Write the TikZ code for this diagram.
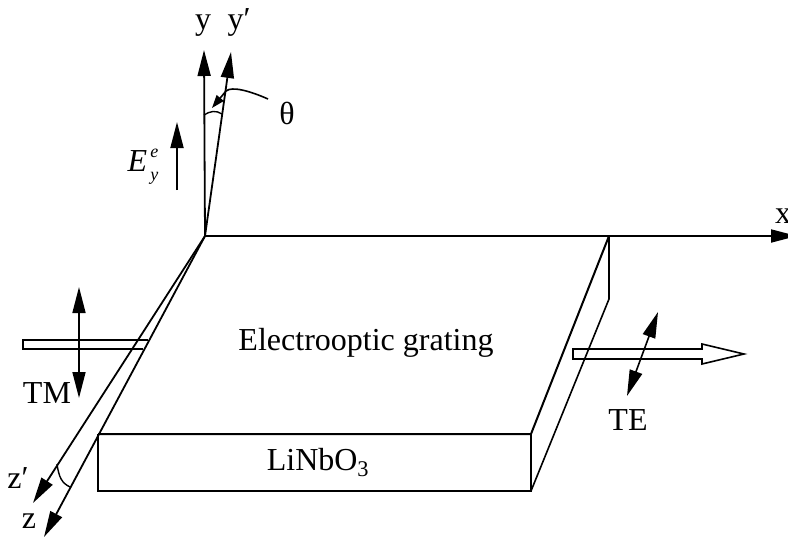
\documentclass[tikz,border=0pt]{standalone}
\usepackage{fontspec}
\setmainfont{Liberation Serif}
\usetikzlibrary{arrows.meta}
\begin{document}
\begin{tikzpicture}[x=1pt,y=-1pt,
  line join=miter,
  solid/.style = {line width=2pt},
  axis/.style = {line width=1.8pt,-{Triangle[length=26pt,width=13pt]}},
  both/.style = {line width=1.6pt,{Triangle[length=26pt,width=13pt]}-{Triangle[length=26pt,width=13pt]}},
  label/.style = {inner sep=0pt,anchor=base,font=\fontsize{32}{34}\selectfont}
]
 \useasboundingbox (0,0) rectangle (788,541);
 \coordinate (o) at (205,236);
 \coordinate (xend) at (797,236);
 \coordinate (yend) at (204,50);
 \coordinate (ypend) at (231,52);
 \coordinate (zend) at (44,537);
 \coordinate (zpend) at (33,503);
 \coordinate (back) at (609,236);
 \coordinate (backlow) at (609,299);
 \coordinate (fl) at (98,434);
 \coordinate (flow) at (98,491);
 \coordinate (fr) at (531,434);
 \coordinate (frlow) at (531,491);
 \coordinate (Ea) at (177,190);
 \coordinate (Eb) at (177,122);
 \coordinate (TMa) at (79,287);
 \coordinate (TMb) at (79,398);
 \coordinate (TEa) at (658,312);
 \coordinate (TEb) at (627,396);
 \coordinate (tha) at (268,99);
 \coordinate (thb) at (212,108);
 % axes
 \draw[axis] (o) -- (xend);
 \draw[axis] (o) -- (yend);
 \draw[axis] (o) -- (ypend);
 \draw[axis] (o) -- (zend);
 \draw[axis] (o) -- (zpend);
 % crystal
 \draw[solid] (back) -- (fr) -- (fl);
 \draw[solid] (fl) -- (flow) -- (frlow) -- (fr);
 \draw[line width=1.6pt] (back) -- (backlow) -- (frlow);
 % angle marks
 \draw[line width=1.4pt] (204,115) .. controls (210,111) and (216,110) .. (222,114);
 \draw[line width=1.4pt] (57,464) .. controls (59,478) and (62,483) .. (70,487);
 \draw[line width=1.6pt,-{Triangle[length=13pt,width=9pt]}] (tha) .. controls (250,91) and (232,86) .. (226,91) -- (thb);
 % waves
 \draw[solid] (148,340) -- (23,340) -- (23,349) -- (143,349);
 \draw[line width=1.6pt] (702,349) -- (573,349) -- (573,359) -- (702,359) -- (702,364) -- (744,354) -- (702,344) -- cycle;
 \draw[axis] (Ea) -- (Eb);
 \draw[both] (TMa) -- (TMb);
 \draw[both] (TEa) -- (TEb);
 % labels
 \node[label] (xlab) at (783,223) {x};
 \node[label] (ylab) at (203,29) {y};
 \node[label] (yplab) at (239,29) {y′};
 \node[label] (thlab) at (287,124) {θ};
 \node[label] (Elab) at (143,171) {\itshape E\rlap{\raisebox{14pt}{\fontsize{18}{20}\selectfont\,e}}\raisebox{-9pt}{\fontsize{18}{20}\selectfont\,y}};
 \node[label] (gratlab) at (366,350) {Electrooptic grating};
 \node[label] (nblab) at (318,470) {LiNbO\textsubscript{3}};
 \node[label] (TElab) at (628,430) {TE};
 \node[label] (TMlab) at (47,403) {TM};
 \node[label] (zplab) at (18,488) {z′};
 \node[label] (zlab) at (29,528) {z};
\end{tikzpicture}
\end{document}
